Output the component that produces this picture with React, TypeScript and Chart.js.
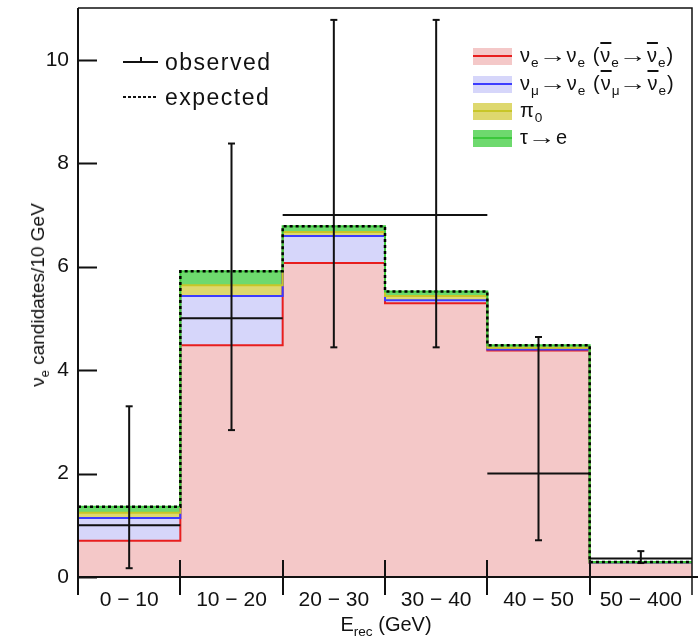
import React, { useEffect, useRef } from "react";
import { Chart, registerables } from "chart.js";

Chart.register(...registerables);

// ---- data ----
const binLabels = ["0 − 10", "10 − 20", "20 − 30", "30 − 40", "40 − 50", "50 − 400"];
const nueCC = [0.7, 4.48, 6.07, 5.29, 4.38, 0.27];
const numuOsc = [0.44, 0.95, 0.52, 0.06, 0.02, 0.0];
const pi0 = [0.1, 0.21, 0.08, 0.08, 0.03, 0.01];
const tauToE = [0.12, 0.27, 0.11, 0.09, 0.05, 0.01];
const observed = [1, 5, 7, 7, 2, 0.36];
const obsErrLow = [0.17, 2.84, 4.44, 4.44, 0.71, 0.27];
const obsErrHigh = [3.3, 8.38, 10.77, 10.77, 4.64, 0.5];
const yTicks = [0, 2, 4, 6, 8, 10];
const yMax = 11;

const FONT = "'Liberation Sans', Arial, Helvetica, sans-serif";

function cumulate(...arrs: number[][]): number[] {
  return arrs[0].map((_, i) => arrs.reduce((s, a) => s + a[i], 0));
}

function stepPoints(vals: number[]) {
  const pts = vals.map((v, i) => ({ x: i, y: v }));
  pts.push({ x: vals.length, y: vals[vals.length - 1] });
  return pts;
}

const frameTicksPlugin = {
  id: "frameTicks",
  afterDatasetsDraw(chart: any) {
    const { ctx, chartArea } = chart;
    const xs = chart.scales.x;
    const ys = chart.scales.y;
    const { left, right, top, bottom } = chartArea;
    ctx.save();
    ctx.strokeStyle = "#111";
    // axes
    ctx.lineWidth = 2;
    ctx.beginPath();
    ctx.moveTo(left, top);
    ctx.lineTo(left, bottom + 18);
    ctx.moveTo(left, bottom);
    ctx.lineTo(chart.width, bottom);
    ctx.stroke();
    // top/right frame
    ctx.lineWidth = 1.5;
    ctx.beginPath();
    ctx.moveTo(left, top);
    ctx.lineTo(right, top);
    ctx.lineTo(right, bottom + 18);
    ctx.stroke();
    // y inward ticks
    ctx.lineWidth = 2;
    ctx.beginPath();
    yTicks.forEach((v) => {
      const py = Math.round(ys.getPixelForValue(v)) + 0.5;
      ctx.moveTo(left, py);
      ctx.lineTo(left + 19, py);
    });
    ctx.stroke();
    // x bin-edge ticks
    ctx.beginPath();
    for (let i = 1; i < binLabels.length; i++) {
      const px = Math.round(xs.getPixelForValue(i));
      ctx.moveTo(px, bottom - 17);
      ctx.lineTo(px, bottom + 18);
    }
    ctx.stroke();
    ctx.restore();
  },
};

const sub = (t: string) => (
  <sub style={{ fontSize: "0.68em", verticalAlign: "-0.35em", lineHeight: 0 }}>{t}</sub>
);
const bar = (t: string) => (
  <span style={{ textDecoration: "overline", textDecorationThickness: "1.5px" }}>{t}</span>
);

export default function App() {
  const canvasRef = useRef<HTMLCanvasElement | null>(null);

  useEffect(() => {
    const cRed = nueCC;
    const cBlue = cumulate(nueCC, numuOsc);
    const cYellow = cumulate(nueCC, numuOsc, pi0);
    const cGreen = cumulate(nueCC, numuOsc, pi0, tauToE);

    const obsPts: any[] = [];
    observed.forEach((v, i) => {
      obsPts.push({ x: i, y: v }, { x: i + 1, y: v }, { x: i + 1, y: null });
    });
    const errPts: any[] = [];
    observed.forEach((_, i) => {
      errPts.push(
        { x: i + 0.5, y: obsErrLow[i] },
        { x: i + 0.5, y: obsErrHigh[i] },
        { x: i + 0.5, y: null }
      );
    });

    const histDs = (label: string, vals: number[], line: string, fillCol: string, fill: any) => ({
      label,
      data: stepPoints(vals),
      stepped: "before",
      borderColor: line,
      borderWidth: 2,
      backgroundColor: fillCol,
      fill,
      pointRadius: 0,
    });

    const chart = new Chart(canvasRef.current as HTMLCanvasElement, {
      type: "line",
      data: {
        datasets: [
          {
            label: "expected",
            data: stepPoints(cGreen),
            stepped: "before",
            borderColor: "#000",
            borderWidth: 2.5,
            borderDash: [3, 3],
            fill: false,
            pointRadius: 0,
          } as any,
          {
            label: "observed",
            data: obsPts,
            borderColor: "#111",
            borderWidth: 2,
            fill: false,
            pointRadius: 0,
            spanGaps: false,
          },
          {
            label: "observed error",
            data: errPts,
            borderColor: "#111",
            borderWidth: 2,
            fill: false,
            pointStyle: "line",
            pointRadius: 3.5,
            pointBorderWidth: 2,
            pointBorderColor: "#111",
            spanGaps: false,
          },
          histDs("τ→e", cGreen, "rgb(60,200,60)", "rgb(110,217,110)", 4),
          histDs("π0", cYellow, "rgb(200,198,40)", "rgb(222,216,110)", 5),
          histDs("νμ→νe", cBlue, "rgb(60,60,255)", "rgb(214,214,250)", 6),
          histDs("νe→νe", cRed, "rgb(232,30,30)", "rgb(244,200,200)", "origin"),
        ] as any,
      },
      options: {
        animation: false,
        responsive: false,
        devicePixelRatio: 1,
        events: [],
        layout: { padding: { top: 8, right: 3, left: 0, bottom: 0 } },
        plugins: {
          legend: { display: false },
          tooltip: { enabled: false },
          filler: { drawTime: "beforeDatasetsDraw", propagate: false },
        } as any,
        scales: {
          x: {
            type: "linear",
            min: 0,
            max: binLabels.length,
            grid: { display: false, drawTicks: false },
            border: { display: false },
            afterBuildTicks: (s: any) => {
              s.ticks = binLabels.map((_, i) => ({ value: i + 0.5 }));
            },
            afterFit: (s: any) => {
              s.height = 60;
              s.paddingLeft = 0;
              s.paddingRight = 0;
              s.paddingTop = 0;
              s.paddingBottom = 0;
            },
            ticks: {
              autoSkip: false,
              maxRotation: 0,
              padding: 11,
              color: "#111",
              font: { family: FONT, size: 21 },
              callback: (_v: any, i: number) => binLabels[i],
            },
          },
          y: {
            type: "linear",
            min: 0,
            max: yMax,
            grid: { display: false, drawTicks: false },
            border: { display: false },
            afterBuildTicks: (s: any) => {
              s.ticks = yTicks.map((v) => ({ value: v }));
            },
            afterFit: (s: any) => {
              s.width = 78;
              s.paddingLeft = 0;
              s.paddingRight = 0;
              s.paddingTop = 0;
              s.paddingBottom = 0;
            },
            ticks: {
              padding: 9,
              color: "#111",
              font: { family: FONT, size: 21 },
            },
          },
        },
      } as any,
      plugins: [frameTicksPlugin],
    });
    return () => chart.destroy();
  }, []);

  const legendRow = (top: number, fillCol: string, lineCol: string, content: React.ReactNode) => (
    <>
      <div
        style={{
          position: "absolute",
          left: 473,
          top: top - 8.5,
          width: 39,
          height: 17,
          background: fillCol,
        }}
      />
      <div
        style={{
          position: "absolute",
          left: 473,
          top: top - 1,
          width: 39,
          height: 2,
          background: lineCol,
        }}
      />
      <div
        style={{
          position: "absolute",
          left: 520,
          top: top - 13,
          height: 24,
          lineHeight: "24px",
          fontSize: 20,
          whiteSpace: "nowrap",
          color: "#111",
          letterSpacing: "1px",
        }}
      >
        {content}
      </div>
    </>
  );

  const arrow = <span style={{ margin: "0 1px", display: "inline-block", transform: "scaleX(1.4)", padding: "0 2px" }}>→</span>;

  return (
    <div
      style={{
        position: "fixed",
        left: 0,
        top: 0,
        width: 698,
        height: 637,
        background: "#fff",
        fontFamily: FONT,
        color: "#111",
      }}
    >
      <canvas ref={canvasRef} width={698} height={637} style={{ display: "block" }} />

      {/* left legend */}
      <div style={{ position: "absolute", left: 123, top: 61, width: 35, height: 2, background: "#111" }} />
      <div style={{ position: "absolute", left: 140, top: 57, width: 1.5, height: 5, background: "#111" }} />
      <div
        style={{
          position: "absolute",
          left: 165,
          top: 47,
          lineHeight: "30px",
          fontSize: 23,
          letterSpacing: "1.5px",
          whiteSpace: "nowrap",
        }}
      >
        observed
      </div>
      <div
        style={{
          position: "absolute",
          left: 123,
          top: 96,
          width: 35,
          height: 2,
          background: "repeating-linear-gradient(90deg, #111 0 3px, transparent 3px 5px)",
        }}
      />
      <div
        style={{
          position: "absolute",
          left: 165,
          top: 82,
          lineHeight: "30px",
          fontSize: 23,
          letterSpacing: "1.5px",
          whiteSpace: "nowrap",
        }}
      >
        expected
      </div>

      {/* right legend */}
      {legendRow(
        56,
        "rgb(244,200,200)",
        "rgb(232,30,30)",
        <>
          ν{sub("e")}
          {arrow}ν{sub("e")} ({bar("ν")}
          {sub("e")}
          {arrow}
          {bar("ν")}
          {sub("e")})
        </>
      )}
      {legendRow(
        84,
        "rgb(214,214,250)",
        "rgb(60,60,255)",
        <>
          ν{sub("μ")}
          {arrow}ν{sub("e")} ({bar("ν")}
          {sub("μ")}
          {arrow}
          {bar("ν")}
          {sub("e")})
        </>
      )}
      {legendRow(111, "rgb(222,216,110)", "rgb(200,198,40)", <>π{sub("0")}</>)}
      {legendRow(138, "rgb(110,217,110)", "rgb(60,200,60)", <>τ{arrow}e</>)}

      {/* y title */}
      <div
        style={{
          position: "absolute",
          left: 38,
          top: 295,
          transform: "translate(-50%, -50%) rotate(-90deg)",
          fontSize: 19,
          lineHeight: "24px",
          whiteSpace: "nowrap",
        }}
      >
        ν{sub("e")} candidates/10 GeV
      </div>

      {/* x title */}
      <div
        style={{
          position: "absolute",
          left: 386,
          top: 612,
          transform: "translateX(-50%)",
          fontSize: 20,
          lineHeight: "24px",
          whiteSpace: "nowrap",
        }}
      >
        E{sub("rec")} (GeV)
      </div>
    </div>
  );
}
